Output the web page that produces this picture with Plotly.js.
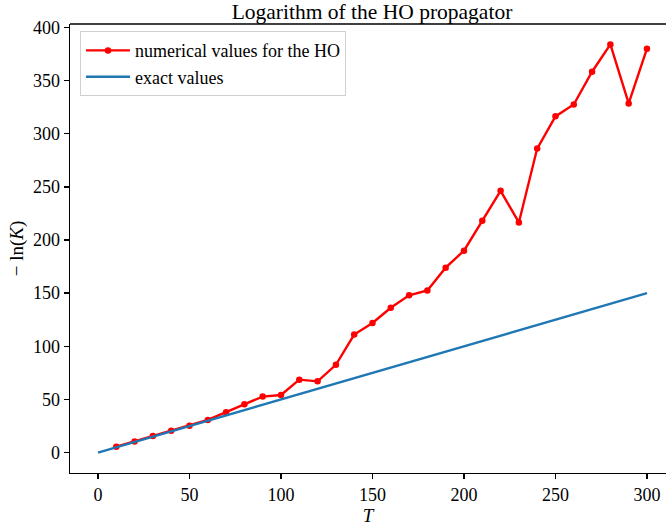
<!DOCTYPE html>
<html>
<head>
<meta charset="utf-8">
<script src="https://cdn.plot.ly/plotly-3.0.1.min.js"></script>
<style>html,body{margin:0;padding:0;background:#fff;}#chart{width:666px;height:526px;}</style>
</head>
<body>
<div id="chart"></div>
<script>
const T_num = [10,20,30,40,50,60,70,80,90,100,110,120,130,140,150,160,170,180,190,200,210,220,230,240,250,260,270,280,290,300];
const lnK_num = [5.6,10.5,15.5,20.5,25.3,30.7,38,45.5,52.7,54.2,68.6,67,82.6,111,122,136.3,148,152.5,174,190,218,246.3,216.5,286,316.3,327.5,358.3,384,328.5,380];
const T_exact = [0,10,20,30,40,50,60,70,80,90,100,110,120,130,140,150,160,170,180,190,200,210,220,230,240,250,260,270,280,290,300];
const lnK_exact = [0,5,10,15,20,25,30,35,40,45,50,55,60,65,70,75,80,85,90,95,100,105,110,115,120,125,130,135,140,145,150];
const xTicks = [0,50,100,150,200,250,300];
const yTicks = [0,50,100,150,200,250,300,350,400];

const FONT = "'Liberation Serif', 'Times New Roman', serif";

const traces = [
  {x: T_num, y: lnK_num, type: 'scatter', mode: 'lines+markers',
   name: 'numerical values for the HO',
   line: {color: '#ff0000', width: 2.4},
   marker: {color: '#ff0000', size: 6.5}},
  {x: T_exact, y: lnK_exact, type: 'scatter', mode: 'lines',
   name: 'exact values',
   line: {color: '#1f77b4', width: 2.4}}
];

const layout = {
  width: 666, height: 526,
  margin: {l: 70, r: 0, t: 24, b: 53, pad: 0},
  paper_bgcolor: '#ffffff', plot_bgcolor: '#ffffff',
  font: {family: FONT, size: 18, color: '#000'},
  title: {text: 'Logarithm of the HO propagator', font: {family: FONT, size: 21.5, color: '#000'},
          xref: 'container', x: 372/666, xanchor: 'center', yref: 'container', y: 1 - 11/526, yanchor: 'middle'},
  showlegend: true,
  legend: {x: 0.0168, y: 0.984, xanchor: 'left', yanchor: 'top',
           bgcolor: 'rgba(255,255,255,0.8)', bordercolor: '#d0d0d0', borderwidth: 1,
           itemwidth: 44, tracegroupgap: 0,
           font: {family: FONT, size: 18, color: '#000'}},
  xaxis: {range: [-15.3, 310.4], tickvals: xTicks, ticktext: xTicks.map(String),
          ticks: 'outside', ticklen: 5, tickwidth: 1.3, tickcolor: '#000',
          showline: true, linecolor: '#000', linewidth: 1.3, mirror: false,
          showgrid: false, zeroline: false,
          title: {text: '<i>T</i>', font: {family: FONT, size: 19}, standoff: 0}},
  yaxis: {range: [-19.2, 403.2], tickvals: yTicks, ticktext: yTicks.map(String),
          ticks: 'outside', ticklen: 5, tickwidth: 1.3, tickcolor: '#000',
          showline: true, linecolor: '#000', linewidth: 1.3, mirror: false,
          showgrid: false, zeroline: false,
          title: {text: '\u2212 ln(<i>K</i>)', font: {family: FONT, size: 19}, standoff: 4}},
  shapes: [{type: 'line', xref: 'paper', yref: 'paper', x0: 0, x1: 1, y0: 1, y1: 1,
            line: {color: '#000', width: 1.3}}]
};

Plotly.newPlot('chart', traces, layout, {displayModeBar: false, staticPlot: true});
</script>
</body>
</html>
